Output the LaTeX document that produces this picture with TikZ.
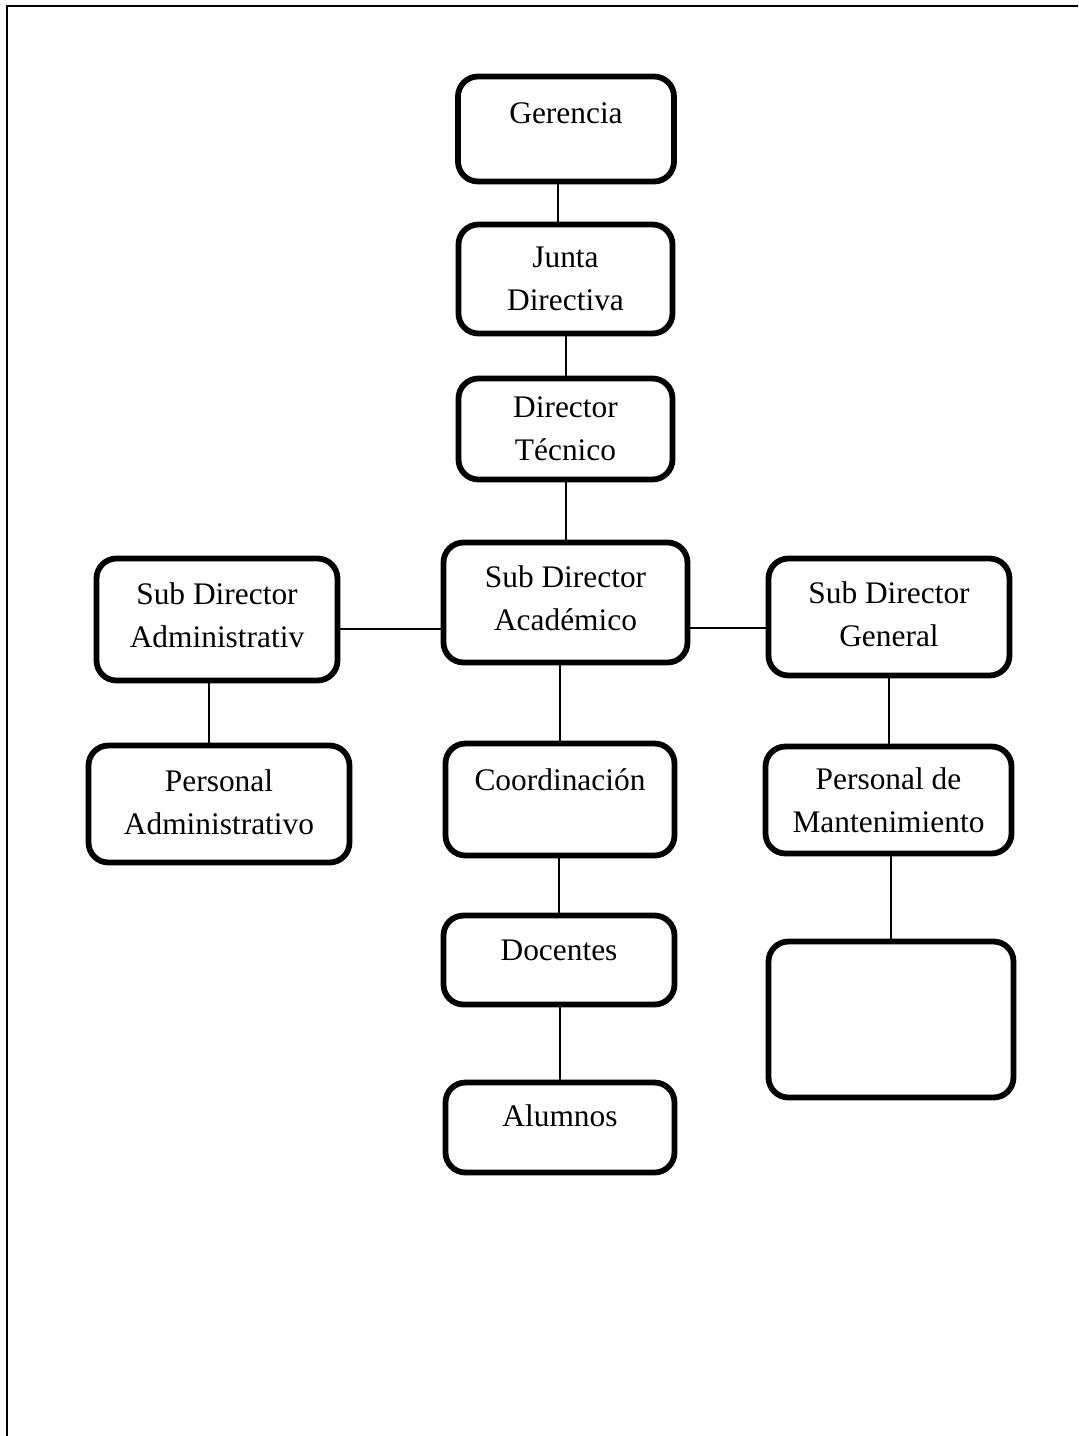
\documentclass[tikz,border=0pt]{standalone}
\usepackage{fontspec}
\setmainfont{Liberation Serif}
\usepackage{tikz}
\usetikzlibrary{positioning}

\begin{document}
\begin{tikzpicture}[
              x=0.5pt, y=-0.5pt,
              box/.style={draw, rounded corners=10pt, line width=2.9pt, align=center,
                          inner sep=0pt, fill=white,
                          font=\fontsize{15.7pt}{21.5pt}\selectfont},
              link/.style={line width=1pt}
            ]

            \useasboundingbox (0,0) rectangle (1078,1436);
            % Frame
            \draw[line width=1.3pt] (1078,6) -| (7,1436);

            % Nodes
            \node[box, minimum width=108pt, minimum height=52.5pt, text depth=16pt] (ger) at (566,129) {Gerencia};
            \node[box, minimum width=107pt, minimum height=54.5pt] (jun) at (565.5,279) {Junta\\Directiva};
            \node[box, minimum width=107pt, minimum height=50.5pt] (dir) at (565.5,429) {Director\\Técnico};
            \node[box, minimum width=122pt, minimum height=60pt, text depth=4pt] (acad) at (565.5,602.5) {Sub Director\\Académico};
            \node[box, minimum width=120.5pt, minimum height=61pt, text depth=4pt] (adm) at (217,619.5) {Sub Director\\Administrativ};
            \node[box, minimum width=120.5pt, minimum height=58.5pt, text depth=3pt] (gen) at (889,617) {Sub Director\\General};
            \node[box, minimum width=130.5pt, minimum height=58.5pt, text depth=2pt] (padm) at (219,804) {Personal\\Administrativo};
            \node[box, minimum width=114.5pt, minimum height=56pt, text depth=19.5pt] (coord) at (560,799.5) {Coordinación};
            \node[box, minimum width=123pt, minimum height=53.5pt] (pmant) at (888.5,800) {Personal de\\Mantenimiento};
            \node[box, minimum width=115.5pt, minimum height=44.5pt, text depth=10pt] (doc) at (559,960) {Docentes};
            \node[box, minimum width=122.5pt, minimum height=78pt] (vacio) at (891,1019.5) {};
            \node[box, minimum width=114.5pt, minimum height=45pt, text depth=11.5pt] (alum) at (560,1127.5) {Alumnos};

            % Edges
            \draw[link] ([xshift=-4pt]ger.south) -- ([xshift=-4pt]ger.south |- jun.north);
            \draw[link] (jun.south) -- (jun.south |- dir.north);
            \draw[link] (dir.south) -- (dir.south |- acad.north);
            \draw[link] ([yshift=-4.5pt]adm.east) -- ([yshift=-4.5pt]adm.east -| acad.west);
            \draw[link] ([yshift=-5.5pt]gen.west) -- ([yshift=-5.5pt]gen.west -| acad.east);
            \draw[link] (coord.north) -- (coord.north |- acad.south);
            \draw[link] (doc.north) -- (doc.north |- coord.south);
            \draw[link] (alum.north) -- (alum.north |- doc.south);
            \draw[link] ([xshift=-5pt]padm.north) -- ([xshift=-5pt]padm.north |- adm.south);
            \draw[link] (pmant.north) -- (pmant.north |- gen.south);
            \draw[link] (vacio.north) -- (vacio.north |- pmant.south);

            \end{tikzpicture}
\end{document}
